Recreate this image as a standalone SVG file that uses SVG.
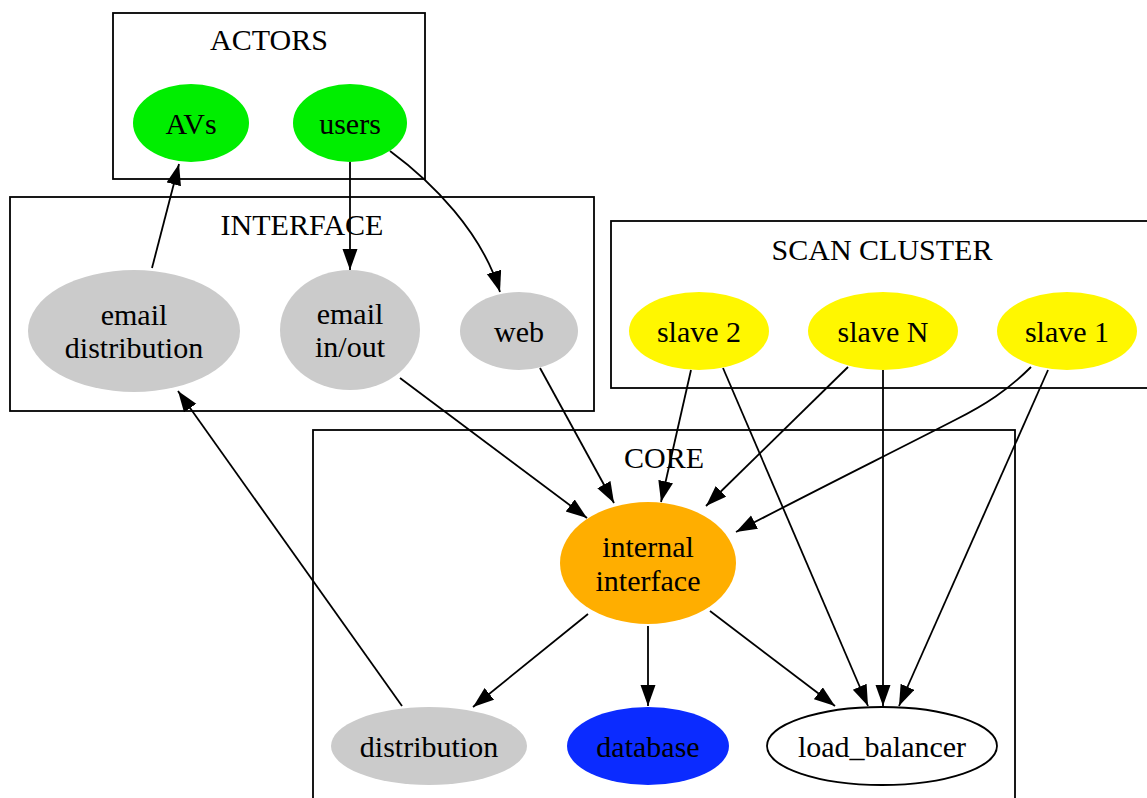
<svg xmlns="http://www.w3.org/2000/svg" width="1147" height="798" viewBox="0 0 1147 798">
<style>
text{font-family:"Liberation Serif","Times New Roman",serif;font-size:30px;fill:#000;text-anchor:middle}
.cl{fill:none;stroke:#000;stroke-width:1.8}
.e{fill:none;stroke:#000;stroke-width:1.8}
.green{fill:#00ee00}
.gray{fill:#cbcbcb}
.yellow{fill:#fff700}
</style>
<defs>
<marker id="arr" markerUnits="userSpaceOnUse" markerWidth="22" markerHeight="16" refX="21" refY="7.5" orient="auto">
<path d="M0,0 L21,7.5 L0,15 Z" fill="#000"/>
</marker>
</defs>
<rect width="1147" height="798" fill="#fff"/>
<g id="clusters">
<g id="cluster_actors"><rect class="cl" x="113" y="13" width="312" height="166"/><text x="269" y="50">ACTORS</text></g>
<g id="cluster_interface"><rect class="cl" x="10" y="197" width="584" height="214"/><text x="302" y="235">INTERFACE</text></g>
<g id="cluster_scan"><rect class="cl" x="611" y="221" width="545" height="167"/><text x="882" y="260">SCAN CLUSTER</text></g>
<g id="cluster_core"><rect class="cl" x="313" y="430" width="702" height="380"/><text x="664" y="468">CORE</text></g>
</g>
<g id="connectors">
<path class="e" d="M152,268 L179,164" marker-end="url(#arr)"/>
<path class="e" d="M350,162 L350,270" marker-end="url(#arr)"/>
<path class="e" d="M390,151 C432,182 482,232 500,292" marker-end="url(#arr)"/>
<path class="e" d="M400,378 L587,518" marker-end="url(#arr)"/>
<path class="e" d="M540,368 L614,503" marker-end="url(#arr)"/>
<path class="e" d="M402,706 L178,391" marker-end="url(#arr)"/>
<path class="e" d="M691,370 L661,502" marker-end="url(#arr)"/>
<path class="e" d="M723,368 L868,706" marker-end="url(#arr)"/>
<path class="e" d="M848,367 L706,506" marker-end="url(#arr)"/>
<path class="e" d="M883,370 L883,706" marker-end="url(#arr)"/>
<path class="e" d="M1031,367 C1008,390 985,405 955,420 C893,452 800,498 736,532" marker-end="url(#arr)"/>
<path class="e" d="M1048,370 L899,706" marker-end="url(#arr)"/>
<path class="e" d="M588,614 L473,707" marker-end="url(#arr)"/>
<path class="e" d="M648,626 L648,706" marker-end="url(#arr)"/>
<path class="e" d="M710,611 L835,706" marker-end="url(#arr)"/>
</g>
<g id="AVs"><ellipse class="green" cx="191" cy="123" rx="58" ry="39"/><text x="191" y="134">AVs</text></g>
<g id="users"><ellipse class="green" cx="350" cy="123" rx="57" ry="39"/><text x="350" y="134">users</text></g>
<g id="email_distribution"><ellipse class="gray" cx="134" cy="331" rx="106" ry="61"/><text x="134" y="325">email</text><text x="134" y="358">distribution</text></g>
<g id="email_inout"><ellipse class="gray" cx="350" cy="330" rx="70" ry="60"/><text x="350" y="324">email</text><text x="350" y="357">in/out</text></g>
<g id="web"><ellipse class="gray" cx="519" cy="331" rx="59" ry="39"/><text x="519" y="342">web</text></g>
<g id="slave2"><ellipse class="yellow" cx="699" cy="331" rx="70" ry="39"/><text x="699" y="342">slave 2</text></g>
<g id="slaveN"><ellipse class="yellow" cx="883" cy="331" rx="75" ry="39"/><text x="883" y="342">slave N</text></g>
<g id="slave1"><ellipse class="yellow" cx="1067" cy="331" rx="70" ry="39"/><text x="1067" y="342">slave 1</text></g>
<g id="internal_interface"><ellipse fill="#ffae00" cx="648" cy="563" rx="88" ry="61"/><text x="648" y="557">internal</text><text x="648" y="591">interface</text></g>
<g id="distribution"><ellipse class="gray" cx="429" cy="746" rx="98" ry="39"/><text x="429" y="757">distribution</text></g>
<g id="database"><ellipse fill="#0b2bff" cx="648" cy="746" rx="81" ry="39"/><text x="648" y="757">database</text></g>
<g id="load_balancer"><ellipse fill="#fff" stroke="#000" stroke-width="1.8" cx="882" cy="746" rx="115" ry="39"/><text x="882" y="757">load_balancer</text></g>
</svg>
